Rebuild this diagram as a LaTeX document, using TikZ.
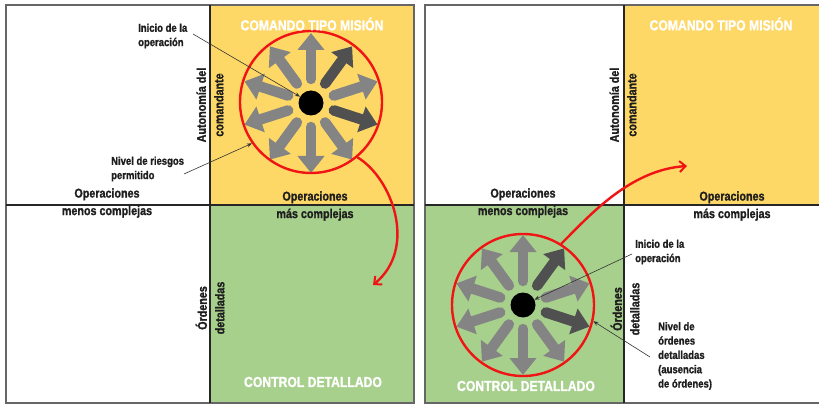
\documentclass[tikz,border=0pt]{standalone}
\usepackage{fontspec}
\setmainfont{Liberation Sans}[FakeStretch=0.84,BoldFeatures={FakeStretch=0.84,FakeBold=1.2}]
\usetikzlibrary{arrows.meta}
\definecolor{yel}{RGB}{254,216,102}
\definecolor{grn}{RGB}{168,208,141}
\definecolor{ga}{RGB}{132,132,132}
\definecolor{gd}{RGB}{80,80,80}
\definecolor{rd}{RGB}{240,20,20}
\definecolor{txt}{RGB}{30,30,30}
\tikzset{
  frame/.style={draw=black!60,line width=1.6pt},
  divider/.style={draw=black!85,line width=1.3pt},
  title/.style={text=white,font=\bfseries\fontsize{14.5}{16}\selectfont,inner sep=0pt},
  lab/.style={text=txt,font=\bfseries\fontsize{12.8}{17.5}\selectfont,align=center,inner sep=0pt},
  note/.style={text=txt,font=\bfseries\fontsize{11.3}{14.3}\selectfont,align=left,inner sep=0pt,anchor=west},
  bigarrow/.style={line width=10.5pt,line cap=round,-{Triangle[width=26pt,length=17pt]}},
  risk/.style={draw=rd,line width=2.4pt},
  move/.style={draw=rd,line width=2.4pt,-{Straight Barb[width=11pt,length=6pt,line width=2pt]}},
  pointer/.style={draw=black!80,line width=0.6pt,-{Stealth[length=5pt,width=4pt]}},
  dot/.style={circle,fill=black,minimum size=25pt,inner sep=0pt}
}
\begin{document}
\begin{tikzpicture}[x=1pt,y=1pt]
\useasboundingbox[fill=white] (0,0) rectangle (819,-406);
% ---------- left panel ----------
\fill[yel] (210,-5) rectangle (414,-205);
\fill[grn] (210,-205) rectangle (414,-403);
\draw[frame] (6,-5) rectangle (414,-403);
\draw[divider] (210,-5) -- (210,-403);
\draw[divider] (6,-205) -- (414,-205);
% ---------- right panel ----------
\fill[yel] (624,-5) rectangle (830,-205);
\fill[grn] (425,-205) rectangle (624,-403);
\draw[frame] (425,-5) rectangle (830,-403);
\draw[divider] (624,-5) -- (624,-403);
\draw[divider] (425,-205) -- (830,-205);
% ---------- circles ----------
\coordinate (c1) at (311,-103);
\coordinate (c2) at (523,-305);
\foreach \cc in {c1,c2}{
  \foreach \a/\col in {90/ga,126/ga,162/ga,198/ga,234/ga,270/ga,306/ga,342/gd,18/ga,54/gd}{
    \draw[bigarrow,\col,shift={(\cc)}] (\a:24) -- (\a:70);
  }
}
\node[dot] (d1) at (c1) {};
\node[dot] (d2) at (c2) {};
\node[risk,circle,minimum size=142pt,inner sep=0pt] (r1) at (311,-102) {};
\node[risk,circle,minimum size=142pt,inner sep=0pt] (r2) at (523,-305) {};
% ---------- red movement arrows ----------
\coordinate (e1) at (373,-285);
\coordinate (e2) at (687,-166);
\draw[move] (r1.-50) .. controls (392,-178) and (418,-248) .. (e1);
\draw[move] (r2.58) .. controls (590,-215) and (630,-170) .. (e2);
% ---------- texts left ----------
\node[title] (tl1) at (312,-24) {COMANDO TIPO MISIÓN};
\node[title] (tl2) at (313,-382) {CONTROL DETALLADO};
\node[note] (in1) at (138,-36) {Inicio de la\\operación};
\node[note] (ri1) at (111,-169) {Nivel de riesgos\\permitido};
\node[lab,rotate=90] (au1) at (210,-105) {Autonomía del\\comandante};
\node[lab,rotate=90] (or1) at (210,-308) {Órdenes\\detalladas};
\node[lab] (op1) at (107,-203) {Operaciones\\menos complejas};
\node[lab] (op2) at (315,-206) {Operaciones\\más complejas};
\coordinate (p1) at (193,-34);
\coordinate (p2) at (184,-174);
\draw[pointer] (p1) -- (d1.150);
\draw[pointer] (p2) -- (r1.-145);
% ---------- texts right ----------
\node[title] (tr1) at (721,-24) {COMANDO TIPO MISIÓN};
\node[title] (tr2) at (526,-386) {CONTROL DETALLADO};
\node[lab,rotate=90] (au2) at (623,-105) {Autonomía del\\comandante};
\node[lab,rotate=90] (or2) at (625,-309) {Órdenes\\detalladas};
\node[lab] (op3) at (523,-203) {Operaciones\\menos complejas};
\node[lab] (op4) at (732,-206) {Operaciones\\más complejas};
\node[note] (in2) at (635,-252) {Inicio de la\\operación};
\node[note] (ni2) at (658,-356) {Nivel de\\órdenes\\detalladas\\(ausencia\\de órdenes)};
\coordinate (p3) at (632,-254);
\coordinate (p4) at (650,-357);
\draw[pointer] (p3) -- (d2.25);
\draw[pointer] (p4) -- (r2.-13);
\end{tikzpicture}
\end{document}
